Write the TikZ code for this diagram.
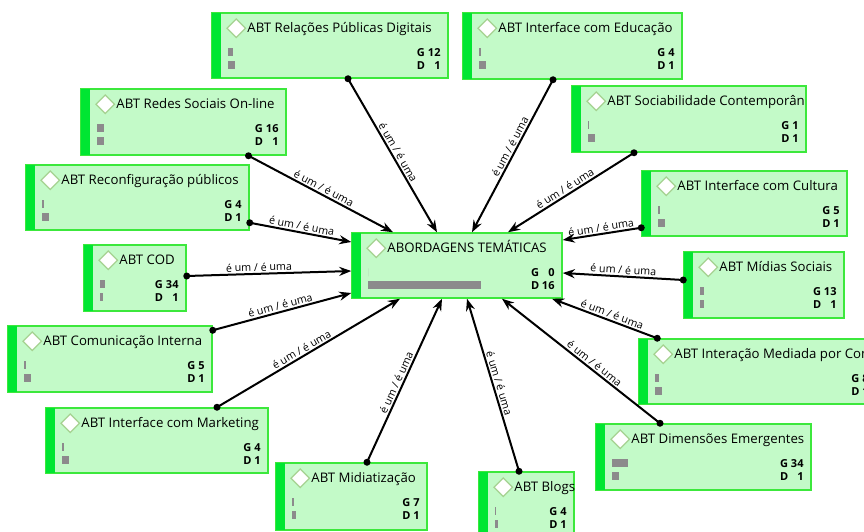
\documentclass[tikz,border=0pt]{standalone}
\usepackage{fontspec}
\setmainfont{Open Sans}
\usetikzlibrary{arrows.meta}
\usetikzlibrary{fit}
\usetikzlibrary{shapes.geometric}

\definecolor{abtFill}{RGB}{195,250,200}
\definecolor{abtLine}{RGB}{60,232,60}
\definecolor{abtStripe}{RGB}{0,230,50}
\definecolor{abtIcon}{RGB}{165,210,145}
\definecolor{abtBar}{RGB}{140,138,140}

\newcommand{\ABTBox}[8]{
\node[abtbox, fit={(#2) (#3)}] (#1) {};
\fill[abtStripe] ([xshift=0.75pt, yshift=-0.75pt]#1.north west) rectangle ([xshift=10pt, yshift=0.75pt]#1.south west);
\node[abticon] (#1icon) at ([xshift=25pt, yshift=-16pt]#1.north west) {};
\node[abttitle] (#1title) at ([xshift=36pt, yshift=-20pt]#1.north west) {#4};
\node[abtcount] (#1count) at ([xshift=-8pt, yshift=-44pt]#1.north east)
  {\begin{tabular}[t]{@{}l@{\ }r@{}}G & #5\\ D & #6\end{tabular}};
\fill[abtbar] ([xshift=17pt, yshift=-36pt]#1.north west) rectangle ++(#7pt,-8pt); % G
\fill[abtbar] ([xshift=17pt, yshift=-49pt]#1.north west) rectangle ++(#8pt,-8pt); % D
}
\newcommand{\IsA}[4]{
\fill (#2) circle (3.5pt);
\draw[isa] (#2) -- (#3) node[isalabel, pos=#4] (#1) {é um / é uma};
}

\begin{document}
\begin{tikzpicture}[x=1pt, y=-1pt,
abtbox/.style={draw=abtLine, line width=1.5pt, fill=abtFill, inner sep=0pt},
abticon/.style={diamond, draw=abtIcon, fill=white, line width=1.3pt, minimum size=19pt, inner sep=0pt},
abttitle/.style={anchor=base west, inner sep=0pt, font=\fontsize{13.2}{16}\selectfont},
abtcount/.style={anchor=base east, inner sep=0pt, font=\bfseries\fontsize{11}{13}\selectfont},
abtbar/.style={fill=abtBar},
isa/.style={-{Stealth[length=12pt, width=9pt]}, line width=2pt, black},
isalabel/.style={sloped, above, inner sep=1.5pt, font=\fontsize{10.7}{12}\selectfont},
]
\useasboundingbox (0,0) rectangle (864,532);
\clip (0,0) rectangle (864,532);

%%%%%%%%%%%%%%%%%%%%%%%% BOXES %%%%%%%%%%%%%%%%%%%%%%%%%%%
\ABTBox{rpd}{212,13}{448,78}{ABT Relações Públicas Digitais}{12}{1}{5}{7}
\ABTBox{edu}{463,13}{682,79}{ABT Interface com Educação}{4}{1}{2}{7}
\ABTBox{redes}{81,89}{286,155}{ABT Redes Sociais On-line}{16}{1}{7}{7}
\ABTBox{soc}{572,86}{806,152}{ABT Sociabilidade Contemporân}{1}{1}{1}{7}
\ABTBox{reconf}{26,165}{249,230}{ABT Reconfiguração públicos}{4}{1}{2}{7}
\ABTBox{cult}{642,171}{847,236}{ABT Interface com Cultura}{5}{1}{2}{7}
\ABTBox{abt}{352,233}{562,298}{ABORDAGENS TEMÁTICAS}{0}{16}{0}{113}
\ABTBox{cod}{84,245}{186,311}{ABT COD}{34}{1}{5}{3}
\ABTBox{midias}{684,252}{844,318}{ABT Mídias Sociais}{13}{1}{4}{4}
\ABTBox{comint}{8,326}{212,392}{ABT Comunicação Interna}{5}{1}{2}{7}
\ABTBox{inter}{639,339}{876,404}{ABT Interação Mediada por Con}{8}{1}{4}{7}
\ABTBox{mkt}{46,408}{268,473}{ABT Interface com Marketing}{4}{1}{2}{7}
\ABTBox{dim}{596,424}{811,490}{ABT Dimensões Emergentes}{34}{1}{16}{7}
\ABTBox{midiat}{276,463}{427,530}{ABT Midiatização}{7}{1}{2}{4}
\ABTBox{blogs}{479,472}{574,537}{ABT Blogs}{4}{1}{1}{3}

%%%%%%%%%%%%%%%%%%%%%%%% EDGES %%%%%%%%%%%%%%%%%%%%%%%%%%%
\IsA{rpdabt}{[xshift=18pt]rpd.south}{[xshift=-20pt]abt.north}{.5}
\IsA{eduabt}{[xshift=-19.5pt]edu.south}{[xshift=15pt]abt.north}{.46}
\IsA{redesabt}{[xshift=65pt]redes.south}{[xshift=-64pt]abt.north}{.5}
\IsA{socabt}{[xshift=-55pt]soc.south}{[xshift=51pt]abt.north}{.52}
\IsA{reconfabt}{[yshift=8pt]reconf.south east}{[yshift=23.5pt]abt.west}{.5}
\IsA{cultabt}{[yshift=9pt]cult.south west}{[yshift=25.5pt]abt.east}{.5}
\IsA{codabt}{[yshift=2pt]cod.east}{[yshift=-5.5pt]abt.west}{.44}
\IsA{midiasabt}{[yshift=5pt]midias.west}{[yshift=-7.5pt]abt.east}{.5}
\IsA{comintabt}{[yshift=-5pt]comint.north east}{[yshift=-27.5pt]abt.west}{.5}
\IsA{interabt}{[xshift=19pt]inter.north west}{[xshift=95pt]abt.south}{.45}
\IsA{mktabt}{[xshift=60pt]mkt.north}{[xshift=-57pt]abt.south}{.48}
\IsA{midiatabt}{[xshift=15.5pt]midiat.north}{[xshift=-15pt]abt.south}{.47}
\IsA{blogsabt}{[xshift=-7.5pt]blogs.north}{[xshift=10pt]abt.south}{.5}
\IsA{dimabt}{[xshift=-43.5pt]dim.north}{[xshift=45pt]abt.south}{.44}
\end{tikzpicture}
\end{document}
